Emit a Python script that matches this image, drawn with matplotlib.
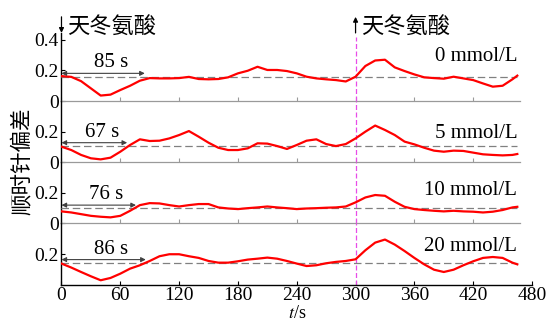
import matplotlib
matplotlib.use("Agg")
import matplotlib.pyplot as plt

plt.rcParams['font.family'] = ['Liberation Serif', 'DejaVu Serif']
plt.rcParams['mathtext.fontset'] = 'stix'

# 时间 (s)
t = list(range(0, 470, 10)) + [465]

# 各浓度下的顺时针偏差
dev_0 = [0.163, 0.158, 0.130, 0.083, 0.036, 0.042, 0.072, 0.100, 0.133, 0.150,
         0.148, 0.148, 0.150, 0.158, 0.144, 0.142, 0.144, 0.155, 0.181, 0.198,
         0.224, 0.203, 0.203, 0.196, 0.181, 0.159, 0.148, 0.142, 0.137, 0.128,
         0.159, 0.229, 0.265, 0.270, 0.220, 0.196, 0.174, 0.155, 0.150, 0.146,
         0.159, 0.148, 0.137, 0.115, 0.094, 0.100, 0.142, 0.166]
dev_5 = [0.102, 0.080, 0.048, 0.026, 0.019, 0.030, 0.069, 0.113, 0.150, 0.139,
         0.141, 0.156, 0.178, 0.204, 0.167, 0.128, 0.095, 0.080, 0.080, 0.091,
         0.124, 0.122, 0.106, 0.087, 0.113, 0.141, 0.150, 0.119, 0.106, 0.119,
         0.156, 0.200, 0.240, 0.211, 0.178, 0.135, 0.117, 0.095, 0.076, 0.069,
         0.076, 0.074, 0.063, 0.052, 0.048, 0.045, 0.048, 0.054]
dev_10 = [0.079, 0.072, 0.061, 0.050, 0.044, 0.040, 0.050, 0.083, 0.120, 0.133,
          0.131, 0.120, 0.111, 0.120, 0.127, 0.127, 0.105, 0.098, 0.094, 0.100,
          0.105, 0.111, 0.105, 0.100, 0.094, 0.098, 0.100, 0.103, 0.105, 0.111,
          0.138, 0.170, 0.186, 0.181, 0.142, 0.109, 0.094, 0.088, 0.083, 0.079,
          0.083, 0.079, 0.077, 0.072, 0.077, 0.088, 0.105, 0.109]
dev_20 = [0.138, 0.112, 0.083, 0.055, 0.029, 0.044, 0.072, 0.105, 0.127, 0.155,
          0.186, 0.199, 0.199, 0.186, 0.175, 0.155, 0.144, 0.144, 0.153, 0.164,
          0.170, 0.177, 0.170, 0.155, 0.138, 0.122, 0.127, 0.140, 0.149, 0.155,
          0.166, 0.225, 0.275, 0.295, 0.262, 0.220, 0.175, 0.133, 0.098, 0.083,
          0.098, 0.127, 0.153, 0.175, 0.181, 0.175, 0.144, 0.133]

series = [dev_0, dev_5, dev_10, dev_20]
conc_labels = ['0 mmol/L', '5 mmol/L', '10 mmol/L', '20 mmol/L']
baselines = [0.155, 0.107, 0.098, 0.144]
resp_time = [85, 67, 76, 86]
arrow_y = [0.181, 0.128, 0.120, 0.164]
label_y = [0.29, 0.19, 0.214, 0.248]
t_add = 300
xticks = [0, 60, 120, 180, 240, 300, 360, 420, 480]

fig = plt.figure(figsize=(5.47, 3.23), dpi=100)

left, width = 0.1124, 0.8602
h = 0.1895
bottoms = [0.6871, 0.4976, 0.3081, 0.1186]
heights = [0.2105, h, h, h]
ytops = [0.444, 0.4, 0.4, 0.4]

cjk = ['Noto Sans CJK SC', 'DejaVu Sans']
axes = []
for i in range(4):
    ax = fig.add_axes([left, bottoms[i], width, heights[i]])
    axes.append(ax)
    ax.set_xlim(0, 480)
    ax.set_ylim(0, ytops[i])
    ax.patch.set_alpha(0)
    for s in ['top', 'right']:
        ax.spines[s].set_visible(False)
    ax.spines['left'].set_linewidth(1.0)

    ax.plot(t, series[i], color='#ff0000', lw=1.6, zorder=4)
    ax.hlines(baselines[i], 0, t[-1], colors='#808080', lw=0.9,
              linestyles=(0, (6, 3)), zorder=3)

    # 响应时间标注
    ax.annotate('', xy=(0, arrow_y[i]), xytext=(resp_time[i], arrow_y[i]),
                arrowprops=dict(arrowstyle='<|-|>', color='#404040', lw=0.8,
                                mutation_scale=7, shrinkA=0, shrinkB=0),
                zorder=5)
    ax.text(resp_time[i] / 2 + 8, arrow_y[i] + 0.006, f'{resp_time[i]} s',
            ha='center', va='bottom', fontsize=15)
    ax.text(t[-1], label_y[i], conc_labels[i], ha='right', va='center',
            fontsize=15)

    ax.tick_params(axis='both', direction='in', length=3, width=0.8,
                   labelsize=14, pad=2)
    if i == 0:
        ax.set_yticks([0, 0.2, 0.4])
        ax.set_yticklabels(['0', '0.2', '0.4'])
    elif i < 3:
        ax.set_yticks([0, 0.2])
        ax.set_yticklabels(['0', '0.2'])
    else:
        ax.set_yticks([0.2])
        ax.set_yticklabels(['0.2'])

    if i < 3:
        ax.spines['bottom'].set_color('#9a9a9a')
        ax.spines['bottom'].set_linewidth(0.9)
        ax.spines['bottom'].set_bounds(0, 468)
        ax.set_xticks(xticks[:-1])
        ax.tick_params(axis='x', colors='#9a9a9a', labelbottom=False)
    else:
        ax.set_xticks(xticks)
        ax.tick_params(axis='x', labelsize=14, pad=1.5)
        ax.spines['bottom'].set_linewidth(1.0)

    # 加药时刻
    top = 0.418 if i == 0 else ytops[i]
    ax.plot([t_add, t_add], [0, top], color='#e84ce8', lw=0.9,
            linestyle=(0, (4, 2)), zorder=2, clip_on=False)

ax0 = axes[0]
for x0, y0, y1 in [(0, 0.55, 0.445), (t_add, 0.445, 0.55)]:
    ax0.annotate('', xy=(x0, y1), xytext=(x0, y0),
                 arrowprops=dict(arrowstyle='-|>', color='black', lw=0.9,
                                 mutation_scale=7, shrinkA=0, shrinkB=0),
                 annotation_clip=False)
    ax0.text(x0 + 6, 0.49, '天冬氨酸', ha='left', va='center', fontsize=16,
             family=cjk, clip_on=False)

fig.text(22.5 / 547, 1 - 161 / 323, '顺时针偏差', rotation=90, ha='center',
         va='center', fontsize=15.5, family=cjk)
fig.text(297 / 547, 1 / 323, '$t$/s', ha='center', va='bottom',
         fontsize=13)

fig.savefig('out.png', dpi=100)
